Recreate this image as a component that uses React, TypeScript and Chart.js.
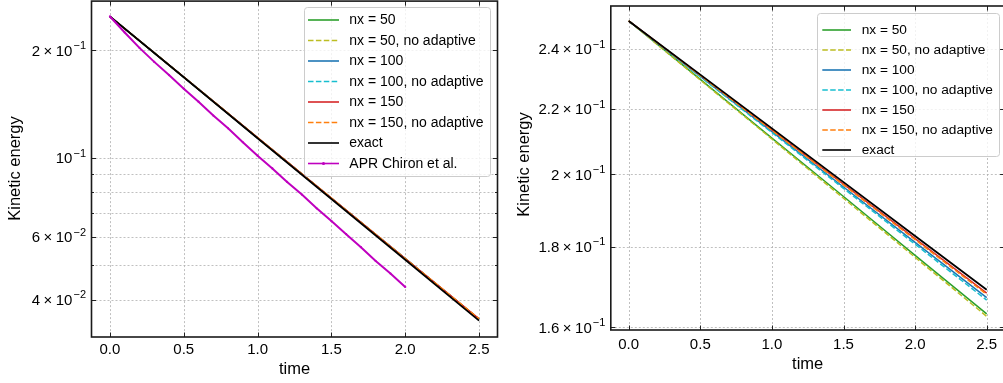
import React, { useEffect, useRef } from 'react';
import { Chart, registerables } from 'chart.js';
Chart.register(...registerables);

// ---------- data ----------
const timeSteps = [0, 0.5, 1.0, 1.5, 2.0, 2.5];
const chironTime = [0, 0.1, 0.2, 0.3, 0.4, 0.5, 0.6, 0.7, 0.8, 0.9, 1.0, 1.1, 1.2, 1.3, 1.4, 1.5, 1.6, 1.7, 1.8, 1.9, 2.0];

const seriesLabels = ['nx = 50', 'nx = 50, no adaptive', 'nx = 100', 'nx = 100, no adaptive', 'nx = 150', 'nx = 150, no adaptive', 'exact', 'APR Chiron et al.'];

const leftNx50 = [0.249, 0.1683, 0.1137, 0.0769, 0.0520, 0.0352];
const leftNx50NoAdapt = [0.249, 0.1683, 0.1137, 0.0769, 0.0520, 0.0352];
const leftNx100 = [0.249, 0.1683, 0.1137, 0.0769, 0.0521, 0.0352];
const leftNx100NoAdapt = [0.249, 0.1683, 0.1137, 0.0769, 0.0521, 0.0352];
const leftNx150 = [0.249, 0.1684, 0.1138, 0.0770, 0.0521, 0.0353];
const leftNx150NoAdapt = [0.249, 0.1684, 0.1138, 0.0770, 0.0521, 0.0353];
const leftExact = [0.249, 0.1681, 0.1134, 0.0766, 0.0517, 0.0349];
const chironKE = [0.249, 0.2245, 0.2033, 0.1857, 0.1705, 0.1562, 0.1436, 0.1313, 0.1209, 0.1105, 0.1013, 0.0933, 0.0855, 0.0788, 0.0721, 0.0664, 0.0610, 0.0561, 0.0513, 0.0473, 0.0434];

const rightNx50 = [0.25, 0.2296, 0.2108, 0.1936, 0.1777, 0.1632];
const rightNx50NoAdapt = [0.25, 0.2294, 0.2105, 0.1931, 0.1772, 0.1626];
const rightNx100 = [0.25, 0.2306, 0.2128, 0.1963, 0.1811, 0.1671];
const rightNx100NoAdapt = [0.25, 0.2305, 0.2125, 0.1959, 0.1806, 0.1665];
const rightNx150 = [0.25, 0.2310, 0.2133, 0.1971, 0.1821, 0.1682];
const rightNx150NoAdapt = [0.25, 0.2309, 0.2132, 0.1969, 0.1818, 0.1679];
const rightExact = [0.25, 0.2312, 0.2138, 0.1977, 0.1828, 0.1690];

// ticks
const xTickValues = [0, 0.5, 1.0, 1.5, 2.0, 2.5];
const xTickLabels = ['0.0', '0.5', '1.0', '1.5', '2.0', '2.5'];
const leftYGrid = [0.04, 0.05, 0.06, 0.07, 0.08, 0.09, 0.1, 0.2];
const leftYTickValues = [0.04, 0.06, 0.1, 0.2];
const leftYTickMantissa = ['4', '6', '', '2'];
const leftYTickExponent = ['−2', '−2', '−1', '−1'];
const rightYGrid = [0.16, 0.18, 0.2, 0.22, 0.24];
const rightYTickValues = [0.16, 0.18, 0.2, 0.22, 0.24];
const rightYTickMantissa = ['1.6', '1.8', '2', '2.2', '2.4'];
const rightYTickExponent = ['−1', '−1', '−1', '−1', '−1'];

const xTitle = 'time';
const yTitle = 'Kinetic energy';

// ---------- styles ----------
const FONT = '"Liberation Sans", Arial, Helvetica, sans-serif';
const styles = [
  { color: '#2ca02c', dash: [] as number[] },
  { color: '#bcbd22', dash: [5.5, 2.4] },
  { color: '#1f77b4', dash: [] },
  { color: '#17becf', dash: [5.5, 2.4] },
  { color: '#d62728', dash: [] },
  { color: '#ff7f0e', dash: [5.5, 2.4] },
  { color: '#000000', dash: [] },
  { color: '#bf00bf', dash: [] },
];

type Panel = {
  canvasLeft: number; canvasWidth: number;
  yWidth: number; xHeight: number; padTop: number; padRight: number;
  yMin: number; yMax: number;
  yGrid: number[]; yTickValues: number[]; yMant: string[]; yExp: string[];
  series: { t: number[]; v: number[] }[];
  legend: { x: number; y: number; w: number; h: number; first: number; step: number; hx0: number; hx1: number; tx: number; font: number };
  xLabelY: number; xTitleY: number; yTitleX: number; yTitleC: number;
};

const leftPanel: Panel = {
  canvasLeft: 0, canvasWidth: 500,
  yWidth: 91.5, xHeight: 46, padTop: 1, padRight: 2.5,
  yMin: 0.0314, yMax: 0.275,
  yGrid: leftYGrid, yTickValues: leftYTickValues, yMant: leftYTickMantissa, yExp: leftYTickExponent,
  series: [
    { t: timeSteps, v: leftNx50 }, { t: timeSteps, v: leftNx50NoAdapt },
    { t: timeSteps, v: leftNx100 }, { t: timeSteps, v: leftNx100NoAdapt },
    { t: timeSteps, v: leftNx150 }, { t: timeSteps, v: leftNx150NoAdapt },
    { t: timeSteps, v: leftExact }, { t: chironTime, v: chironKE },
  ],
  legend: { x: 304, y: 7, w: 186, h: 169, first: 20, step: 20.5, hx0: 308, hx1: 339, tx: 349.3, font: 14 },
  xLabelY: 349, xTitleY: 374, yTitleX: 19.5, yTitleC: 168.5,
};

const rightPanel: Panel = {
  canvasLeft: 500, canvasWidth: 510,
  yWidth: 110.8, xHeight: 53, padTop: 6, padRight: 5.4,
  yMin: 0.1594, yMax: 0.2555,
  yGrid: rightYGrid, yTickValues: rightYTickValues, yMant: rightYTickMantissa, yExp: rightYTickExponent,
  series: [
    { t: timeSteps, v: rightNx50 }, { t: timeSteps, v: rightNx50NoAdapt },
    { t: timeSteps, v: rightNx100 }, { t: timeSteps, v: rightNx100NoAdapt },
    { t: timeSteps, v: rightNx150 }, { t: timeSteps, v: rightNx150NoAdapt },
    { t: timeSteps, v: rightExact },
  ],
  legend: { x: 317, y: 13, w: 182, h: 143, first: 24, step: 20, hx0: 322.3, hx1: 351, tx: 361.7, font: 13.7 },
  xLabelY: 344, xTitleY: 369, yTitleX: 29, yTitleC: 164.5,
};

function decorPlugin(p: Panel) {
  return {
    id: 'decor',
    beforeDatasetsDraw(chart: any) {
      const { ctx, chartArea: a, scales } = chart;
      const x = scales.x, y = scales.y;
      ctx.save();
      ctx.strokeStyle = '#b0b0b0';
      ctx.lineWidth = 0.8;
      ctx.setLineDash([2, 2]);
      for (const v of xTickValues) {
        const px = Math.round(x.getPixelForValue(v)) + 0.5;
        ctx.beginPath(); ctx.moveTo(px, a.top); ctx.lineTo(px, a.bottom); ctx.stroke();
      }
      for (const v of p.yGrid) {
        const py = Math.round(y.getPixelForValue(v)) + 0.5;
        ctx.beginPath(); ctx.moveTo(a.left, py); ctx.lineTo(a.right, py); ctx.stroke();
      }
      ctx.restore();
    },
    afterDatasetsDraw(chart: any) {
      const { ctx, chartArea: a, scales } = chart;
      const x = scales.x, y = scales.y;
      ctx.save();
      ctx.setLineDash([]);
      // inward ticks
      ctx.strokeStyle = '#222';
      ctx.lineWidth = 1;
      for (const v of xTickValues) {
        const px = Math.round(x.getPixelForValue(v)) + 0.5;
        ctx.beginPath(); ctx.moveTo(px, a.bottom); ctx.lineTo(px, a.bottom - 4.5); ctx.stroke();
        ctx.beginPath(); ctx.moveTo(px, a.top); ctx.lineTo(px, a.top + 4.5); ctx.stroke();
      }
      for (const v of p.yGrid) {
        const len = p.yTickValues.includes(v) ? 4.5 : 2.5;
        const py = Math.round(y.getPixelForValue(v)) + 0.5;
        ctx.beginPath(); ctx.moveTo(a.left, py); ctx.lineTo(a.left + len, py); ctx.stroke();
        ctx.beginPath(); ctx.moveTo(a.right, py); ctx.lineTo(a.right - len, py); ctx.stroke();
      }
      // frame
      ctx.strokeStyle = '#1a1a1a';
      ctx.lineWidth = 1.6;
      ctx.strokeRect(a.left, a.top, a.right - a.left, a.bottom - a.top);

      // legend
      const L = p.legend;
      ctx.beginPath();
      (ctx as any).roundRect(L.x + 0.5, L.y + 0.5, L.w, L.h, 3);
      ctx.fillStyle = 'rgba(255,255,255,0.8)';
      ctx.fill();
      ctx.strokeStyle = '#cccccc';
      ctx.lineWidth = 1;
      ctx.stroke();
      ctx.font = `${L.font}px ${FONT}`;
      ctx.textBaseline = 'middle';
      ctx.textAlign = 'left';
      p.series.forEach((_, i) => {
        const cy = L.y + L.first - 7 + i * L.step;
        const st = styles[i];
        ctx.strokeStyle = st.color;
        ctx.lineWidth = 1.6;
        ctx.setLineDash(st.dash);
        ctx.beginPath(); ctx.moveTo(L.hx0, cy); ctx.lineTo(L.hx1, cy); ctx.stroke();
        ctx.setLineDash([]);
        if (i === 7) {
          ctx.fillStyle = st.color;
          ctx.beginPath(); ctx.arc((L.hx0 + L.hx1) / 2, cy, 1.6, 0, Math.PI * 2); ctx.fill();
        }
        ctx.fillStyle = '#000';
        ctx.fillText(seriesLabels[i], L.tx, cy + 0.5);
      });

      // x tick labels
      ctx.fillStyle = '#000';
      ctx.font = `15px ${FONT}`;
      ctx.textAlign = 'center';
      ctx.textBaseline = 'alphabetic';
      xTickValues.forEach((v, i) => {
        ctx.fillText(xTickLabels[i], x.getPixelForValue(v), p.xLabelY + 5.4);
      });
      // y tick labels with superscripts
      p.yTickValues.forEach((v, i) => {
        const py = y.getPixelForValue(v);
        const base = py + 5.4;
        const mant = p.yMant[i];
        const ex = p.yExp[i];
        ctx.font = `11px ${FONT}`;
        const wExp = ctx.measureText(ex).width;
        ctx.font = `15px ${FONT}`;
        const w10 = ctx.measureText('10').width;
        const wMant = mant ? ctx.measureText(mant).width : 0;
        const wTimes = mant ? ctx.measureText('×').width : 0;
        const gap = 3.5;
        const total = wMant + (mant ? gap * 2 + wTimes : 0) + w10 + 1 + wExp;
        let cx = a.left - 5.5 - total;
        ctx.textAlign = 'left';
        if (mant) {
          ctx.fillText(mant, cx, base); cx += wMant + gap;
          ctx.fillText('×', cx, base); cx += wTimes + gap;
        }
        ctx.fillText('10', cx, base); cx += w10 + 1;
        ctx.font = `11px ${FONT}`;
        ctx.fillText(ex, cx, base - 6.5);
      });
      // titles
      ctx.font = `16.5px ${FONT}`;
      ctx.textAlign = 'center';
      ctx.textBaseline = 'alphabetic';
      ctx.fillText(xTitle, (a.left + a.right) / 2, p.xTitleY);
      ctx.save();
      ctx.translate(p.yTitleX, p.yTitleC);
      ctx.rotate(-Math.PI / 2);
      ctx.fillText(yTitle, 0, 0);
      ctx.restore();
      ctx.restore();
    },
  };
}

function ChartPanel({ panel }: { panel: Panel }) {
  const ref = useRef<HTMLCanvasElement>(null);
  useEffect(() => {
    if (!ref.current) return;
    const n = panel.series.length;
    const datasets = panel.series.map((s, i) => ({
      label: seriesLabels[i],
      data: s.t.map((t, j) => ({ x: t, y: s.v[j] })),
      borderColor: styles[i].color,
      backgroundColor: styles[i].color,
      borderWidth: i === 6 ? 1.8 : i === 7 ? 2 : 1.5,
      borderDash: styles[i].dash,
      pointRadius: i === 7 ? 1.1 : 0,
      pointHoverRadius: 0,
      pointBorderWidth: 0,
      fill: false,
      tension: 0,
      order: n - i,
    }));
    const chart = new Chart(ref.current, {
      type: 'line',
      data: { datasets },
      options: {
        animation: false,
        responsive: false,
        devicePixelRatio: 1,
        events: [],
        layout: { padding: { top: panel.padTop, right: panel.padRight, left: 0, bottom: 0 } },
        plugins: { legend: { display: false }, tooltip: { enabled: false } },
        scales: {
          x: {
            type: 'linear', min: -0.125, max: 2.625,
            grid: { display: false }, ticks: { display: false }, border: { display: false },
            afterFit: (s: any) => { s.height = panel.xHeight; },
          },
          y: {
            type: 'logarithmic', min: panel.yMin, max: panel.yMax,
            grid: { display: false }, ticks: { display: false }, border: { display: false },
            afterFit: (s: any) => { s.width = panel.yWidth; },
          },
        },
      } as any,
      plugins: [decorPlugin(panel)],
    });
    return () => chart.destroy();
  }, [panel]);
  return (
    <canvas
      ref={ref}
      width={panel.canvasWidth}
      height={383}
      style={{ position: 'absolute', left: panel.canvasLeft, top: 0, width: panel.canvasWidth, height: 383 }}
    />
  );
}

export default function App() {
  return (
    <div style={{ position: 'absolute', left: 0, top: 0, width: 1003, height: 383, overflow: 'hidden', background: '#fff' }}>
      <ChartPanel panel={leftPanel} />
      <ChartPanel panel={rightPanel} />
    </div>
  );
}
